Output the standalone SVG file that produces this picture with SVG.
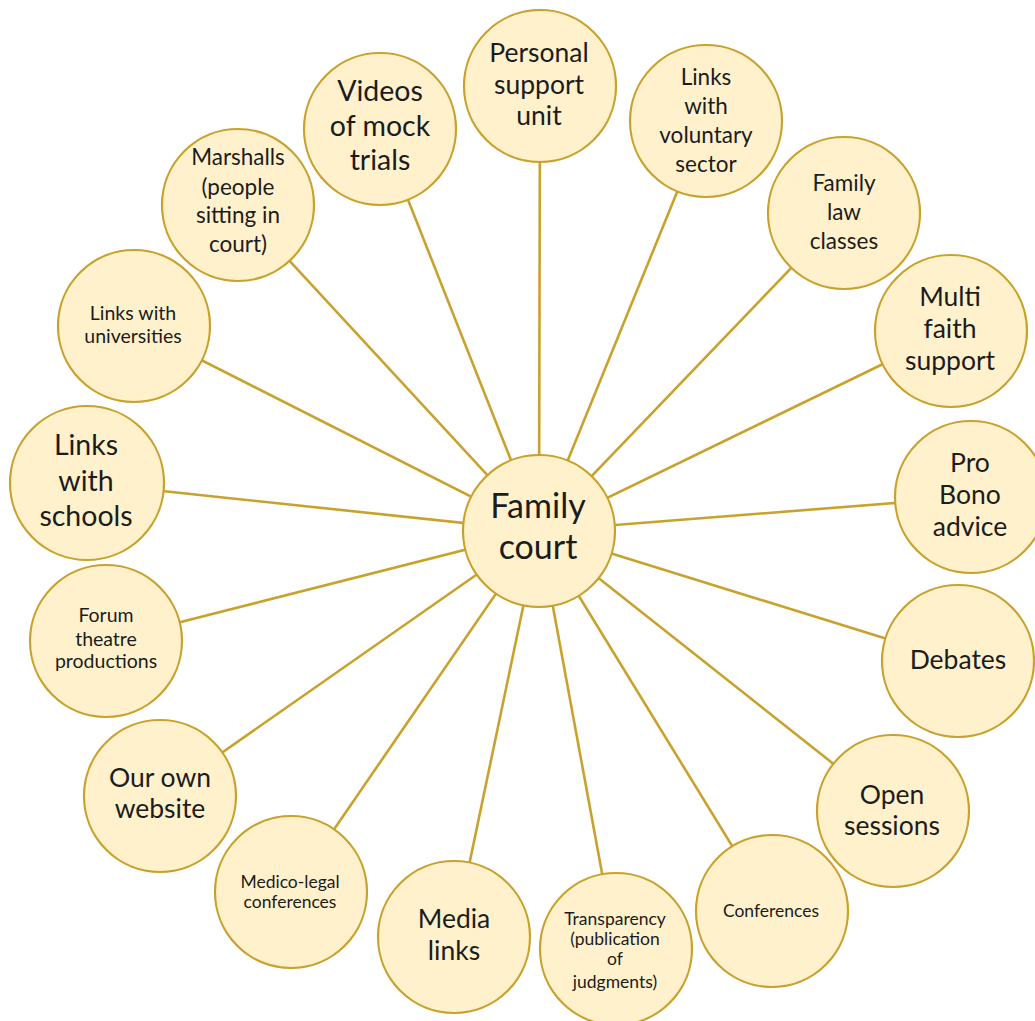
<svg xmlns="http://www.w3.org/2000/svg" width="1035" height="1021" viewBox="0 0 1035 1021">
<style>
.n{fill:#FFF1CC;stroke:#C9A22E;stroke-width:2.2}
.c line{stroke:#C9A22E;stroke-width:2.6}
text{font-family:Lato,"Open Sans","Liberation Sans",sans-serif;fill:#1c1c1c;text-anchor:middle}
.s15{font-size:17.5px}.s17{font-size:19.5px}.s22{font-size:22.5px}.s26{font-size:26.5px}.s28{font-size:28.5px}.s32{font-size:34px}
</style>
<rect width="1035" height="1021" fill="#fff"/>
<g id="connectors" class="c">
<line x1="539" y1="531" x2="540" y2="86"/>
<line x1="539" y1="531" x2="706" y2="121"/>
<line x1="539" y1="531" x2="844" y2="213"/>
<line x1="539" y1="531" x2="951" y2="331"/>
<line x1="539" y1="531" x2="971" y2="497"/>
<line x1="539" y1="531" x2="958" y2="661"/>
<line x1="539" y1="531" x2="893" y2="811"/>
<line x1="539" y1="531" x2="772" y2="911"/>
<line x1="539" y1="531" x2="616" y2="949"/>
<line x1="539" y1="531" x2="454" y2="937"/>
<line x1="539" y1="531" x2="291" y2="892"/>
<line x1="539" y1="531" x2="160" y2="796"/>
<line x1="539" y1="531" x2="106" y2="641"/>
<line x1="539" y1="531" x2="87" y2="483"/>
<line x1="539" y1="531" x2="134" y2="326"/>
<line x1="539" y1="531" x2="238" y2="205"/>
<line x1="539" y1="531" x2="380" y2="129"/>
</g>
<g id="family-court"><circle class="n" cx="539" cy="531" r="76"/><text class="s32" x="538"><tspan x="538" y="518">Family</tspan><tspan x="538" y="559">court</tspan></text></g>
<g id="personal-support"><circle class="n" cx="540" cy="86" r="76"/><text class="s26"><tspan x="539" y="62">Personal</tspan><tspan x="539" y="94">support</tspan><tspan x="539" y="125">unit</tspan></text></g>
<g id="voluntary"><circle class="n" cx="706" cy="121" r="76"/><text class="s22"><tspan x="706" y="85">Links</tspan><tspan x="706" y="114">with</tspan><tspan x="706" y="143">voluntary</tspan><tspan x="706" y="172">sector</tspan></text></g>
<g id="family-law"><circle class="n" cx="844" cy="213" r="76"/><text class="s22"><tspan x="844" y="191">Family</tspan><tspan x="844" y="220">law</tspan><tspan x="844" y="249">classes</tspan></text></g>
<g id="multi-faith"><circle class="n" cx="951" cy="331" r="76"/><text class="s26"><tspan x="950" y="306">Multi</tspan><tspan x="950" y="338">faith</tspan><tspan x="950" y="370">support</tspan></text></g>
<g id="pro-bono"><circle class="n" cx="971" cy="497" r="76"/><text class="s26"><tspan x="970" y="472">Pro</tspan><tspan x="970" y="504">Bono</tspan><tspan x="970" y="536">advice</tspan></text></g>
<g id="debates"><circle class="n" cx="958" cy="661" r="76"/><text class="s26" x="958" y="669">Debates</text></g>
<g id="open-sessions"><circle class="n" cx="893" cy="811" r="76"/><text class="s26"><tspan x="892" y="804">Open</tspan><tspan x="892" y="835">sessions</tspan></text></g>
<g id="conferences"><circle class="n" cx="772" cy="911" r="76"/><text class="s15" x="771" y="917">Conferences</text></g>
<g id="transparency"><circle class="n" cx="616" cy="949" r="76"/><text class="s15"><tspan x="615" y="925">Transparency</tspan><tspan x="615" y="945">(publication</tspan><tspan x="615" y="965">of</tspan><tspan x="615" y="988">judgments)</tspan></text></g>
<g id="media-links"><circle class="n" cx="454" cy="937" r="76"/><text class="s26"><tspan x="454" y="928">Media</tspan><tspan x="454" y="960">links</tspan></text></g>
<g id="medico-legal"><circle class="n" cx="291" cy="892" r="76"/><text class="s15"><tspan x="290" y="888">Medico-legal</tspan><tspan x="290" y="908">conferences</tspan></text></g>
<g id="website"><circle class="n" cx="160" cy="796" r="76"/><text class="s26"><tspan x="160" y="787">Our own</tspan><tspan x="160" y="818">website</tspan></text></g>
<g id="forum-theatre"><circle class="n" cx="106" cy="641" r="76"/><text class="s17"><tspan x="106" y="622">Forum</tspan><tspan x="106" y="646">theatre</tspan><tspan x="106" y="668">productions</tspan></text></g>
<g id="schools"><circle class="n" cx="87" cy="483" r="77"/><text class="s28"><tspan x="86" y="455">Links</tspan><tspan x="86" y="491">with</tspan><tspan x="86" y="526">schools</tspan></text></g>
<g id="universities"><circle class="n" cx="134" cy="326" r="76"/><text class="s17"><tspan x="133" y="320">Links with</tspan><tspan x="133" y="343">universities</tspan></text></g>
<g id="marshalls"><circle class="n" cx="238" cy="205" r="76"/><text class="s22"><tspan x="238" y="165">Marshalls</tspan><tspan x="238" y="195">(people</tspan><tspan x="238" y="223">sitting in</tspan><tspan x="238" y="252">court)</tspan></text></g>
<g id="videos"><circle class="n" cx="380" cy="129" r="76"/><text class="s28"><tspan x="380" y="101">Videos</tspan><tspan x="380" y="136">of mock</tspan><tspan x="380" y="170">trials</tspan></text></g>
</svg>
